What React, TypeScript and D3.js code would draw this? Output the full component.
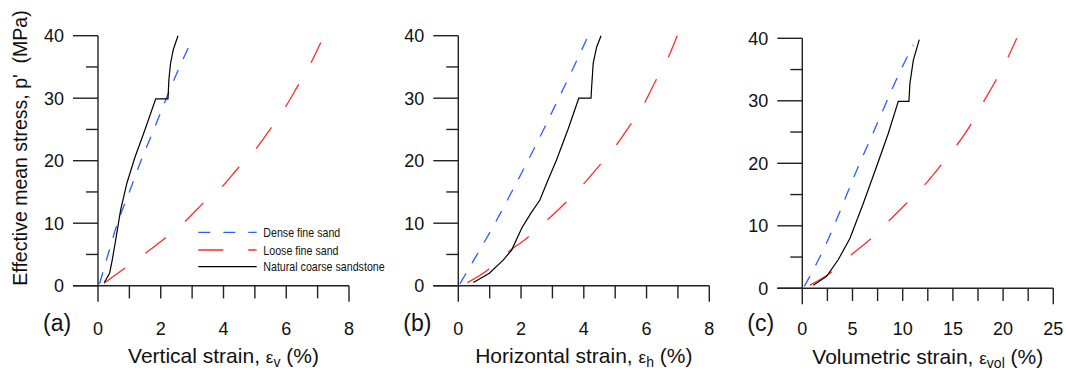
import React from "react";
import * as d3 from "d3";

type Pt = [number, number];

// ---- data (strain %, p' MPa) ----
const denseA: Pt[] = [[0.05, 0.3], [0.32, 5], [0.62, 10], [1.0, 15], [1.37, 20], [1.78, 25], [2.18, 30], [2.6, 35], [3.0, 39.4]];
const looseA: Pt[] = [[0.19, 0.4], [0.85, 2.8], [1.51, 5.2], [2.18, 7.8], [2.82, 10.5], [3.35, 13.2], [3.93, 15.7], [4.46, 18.8], [5.0, 21.7], [5.47, 24.9], [5.95, 28.4], [6.35, 31.8], [6.75, 35.3], [7.1, 38.9]];
const naturalA: Pt[] = [[0.2, 0.5], [0.37, 2.0], [0.45, 4], [0.58, 7.8], [0.72, 12.1], [0.92, 16.4], [1.18, 20.6], [1.5, 25], [1.84, 29.9], [2.23, 29.9], [2.26, 33], [2.31, 35.5], [2.4, 37.8], [2.55, 40]];

const denseB: Pt[] = [[0.05, 0.3], [0.6, 5], [1.17, 10], [1.7, 15], [2.22, 20], [2.72, 25], [3.2, 30], [3.68, 35], [4.14, 40]];
const looseB: Pt[] = [[0.29, 0.5], [0.96, 2.6], [1.54, 5.2], [2.18, 7.6], [2.81, 10.4], [3.4, 13.2], [3.96, 16.1], [4.46, 19], [4.99, 22.2], [5.45, 25.5], [5.9, 28.9], [6.27, 32.6], [6.66, 36.2], [6.98, 40]];
const naturalB: Pt[] = [[0.48, 0.5], [0.99, 2.0], [1.43, 4.1], [1.7, 5.7], [2.02, 9.2], [2.3, 11.5], [2.6, 13.7], [2.85, 16.8], [3.13, 20.1], [3.51, 25.2], [3.84, 30], [4.23, 30], [4.25, 31.8], [4.3, 35.6], [4.41, 38.2], [4.55, 40]];

const denseC: Pt[] = [[0.2, 0.3], [1.43, 4.0], [2.26, 6.7], [3.42, 11], [4.48, 15.2], [5.58, 19.5], [6.74, 23.7], [7.9, 28], [9.06, 32.3], [10.22, 36.3], [11.06, 38.9]];
const looseC: Pt[] = [[0.76, 0.5], [2.76, 2.4], [4.91, 5.4], [6.74, 7.8], [8.57, 10.7], [10.39, 13.6], [12.05, 16.3], [13.71, 19.5], [15.2, 22.5], [16.7, 26], [17.86, 29.3], [19.19, 33], [20.35, 36.5], [21.35, 40]];
const naturalC: Pt[] = [[1.1, 0.5], [2.42, 1.9], [3.59, 4.6], [4.75, 8.0], [6.08, 13.6], [7.4, 19.5], [8.57, 24.8], [9.56, 29.9], [10.62, 29.9], [10.72, 32.8], [11.06, 36.5], [11.65, 39.8]];

const yTicks = [0, 5, 10, 15, 20, 25, 30, 35, 40];
const xTicksAB = [0, 1, 2, 3, 4, 5, 6, 7, 8];
const xLabelsAB = [0, 2, 4, 6, 8];
const xTicksC = [0, 2.5, 5, 7.5, 10, 12.5, 15, 17.5, 20, 22.5, 25];
const xLabelsC = [0, 5, 10, 15, 20, 25];

const legendItems = ["Dense fine sand", "Loose fine sand", "Natural coarse sandstone"];

const BLUE = "#2a5cff";
const RED = "#ff2a2a";
const AXIS = "#222";
const FONT = "'Liberation Sans', Arial, Helvetica, sans-serif";

type PanelDef = {
    left: number;
    top: number;
    xMax: number;
    xTicks: number[];
    xLabels: number[];
    tag: string;
    title: string;
    sub: string;
    titleY: number;
    dense: Pt[];
    loose: Pt[];
    natural: Pt[];
};

const panels: PanelDef[] = [
    { left: 98, top: 35.7, xMax: 8, xTicks: xTicksAB, xLabels: xLabelsAB, tag: "(a)", title: "Vertical strain, ", sub: "v", titleY: 363, dense: denseA, loose: looseA, natural: naturalA },
    { left: 458.3, top: 35.7, xMax: 8, xTicks: xTicksAB, xLabels: xLabelsAB, tag: "(b)", title: "Horizontal strain, ", sub: "h", titleY: 363, dense: denseB, loose: looseB, natural: naturalB },
    { left: 802.3, top: 38.3, xMax: 25, xTicks: xTicksC, xLabels: xLabelsC, tag: "(c)", title: "Volumetric strain, ", sub: "vol", titleY: 364, dense: denseC, loose: looseC, natural: naturalC },
];

const W = 251;
const H = 250;

const Panel = ({ p }: { p: PanelDef }) => {
    const x = d3.scaleLinear().domain([0, p.xMax]).range([p.left, p.left + W]);
    const y = d3.scaleLinear().domain([0, 40]).range([p.top + H, p.top]);
    const smooth = d3.line<Pt>().x(d => x(d[0])).y(d => y(d[1])).curve(d3.curveMonotoneX);
    const straight = d3.line<Pt>().x(d => x(d[0])).y(d => y(d[1]));
    const x0 = x(0);
    const y0 = y(0);
    const last = p.xTicks[p.xTicks.length - 1];

    return (
        <g>
            {/* axes */}
            <line x1={x0 - 25} x2={x(p.xMax)} y1={y0} y2={y0} stroke={AXIS} strokeWidth={1.4} />
            <line x1={x0} x2={x0} y1={y(40)} y2={y0 + 16} stroke={AXIS} strokeWidth={1.4} />
            {yTicks.map(t => (
                <line key={"yt" + t} x1={x0 - (t % 10 === 0 ? 25 : 12)} x2={x0} y1={y(t)} y2={y(t)} stroke={AXIS} strokeWidth={1.4} />
            ))}
            {p.xTicks.filter(t => t !== 0).map(t => (
                <line key={"xt" + t} x1={x(t)} x2={x(t)} y1={y0} y2={y0 + (t === last ? 16 : 12.7)} stroke={AXIS} strokeWidth={1.4} />
            ))}
            {yTicks.filter(t => t % 10 === 0).map(t => (
                <text key={"yl" + t} x={x0 - 34} y={y(t) + 6.5} textAnchor="end" fontSize={18} fontFamily={FONT} fill="#111">{t}</text>
            ))}
            {p.xLabels.map(t => (
                <text key={"xl" + t} x={x(t)} y={335} textAnchor="middle" fontSize={18} fontFamily={FONT} fill="#111">{t}</text>
            ))}
            <text x={p.left - 55} y={331} fontSize={23} fontFamily={FONT} fill="#111">{p.tag}</text>
            <text x={p.left + W / 2} y={p.titleY} textAnchor="middle" fontSize={21} fontFamily={FONT} fill="#111">
                {p.title}
                <tspan fontSize={17}>ε</tspan>
                <tspan fontSize={14} dy={4}>{p.sub}</tspan>
                <tspan dy={-4}> (%)</tspan>
            </text>

            {/* curves */}
            <path d={smooth(p.loose) || ""} fill="none" stroke={RED} strokeWidth={1.3} strokeDasharray="26,25" />
            <path d={smooth(p.dense) || ""} fill="none" stroke={BLUE} strokeWidth={1.3} strokeDasharray="12,12" />
            <path d={straight(p.natural) || ""} fill="none" stroke="#000" strokeWidth={1.2} />
        </g>
    );
};

const Legend = () => {
    const x1 = 198.3;
    const x2 = 256.7;
    const ys = [232.3, 250, 266.7];
    const styles = [
        { stroke: BLUE, dash: "12,13" },
        { stroke: RED, dash: "25,25" },
        { stroke: "#000", dash: undefined },
    ];
    return (
        <g>
            {legendItems.map((label, i) => (
                <g key={label}>
                    <line x1={x1} x2={x2} y1={ys[i]} y2={ys[i]} stroke={styles[i].stroke} strokeWidth={1.3} strokeDasharray={styles[i].dash} />
                    <text transform={`translate(263.3,${ys[i] + 4.5}) scale(0.82,1)`} fontSize={13} fontFamily={FONT} fill="#111">{label}</text>
                </g>
            ))}
        </g>
    );
};

export default function App() {
    return (
        <svg width={1066} height={370} style={{ position: "absolute", left: 0, top: 0, background: "#fff" }}>
            <rect width={1066} height={370} fill="#fff" />
            <text transform="translate(27,148) rotate(-90)" textAnchor="middle" fontSize={19.5} fontFamily={FONT} fill="#111" xmlSpace="preserve">
                Effective mean stress, p'  (MPa)
            </text>
            {panels.map(p => <Panel key={p.tag} p={p} />)}
            <Legend />
        </svg>
    );
}
